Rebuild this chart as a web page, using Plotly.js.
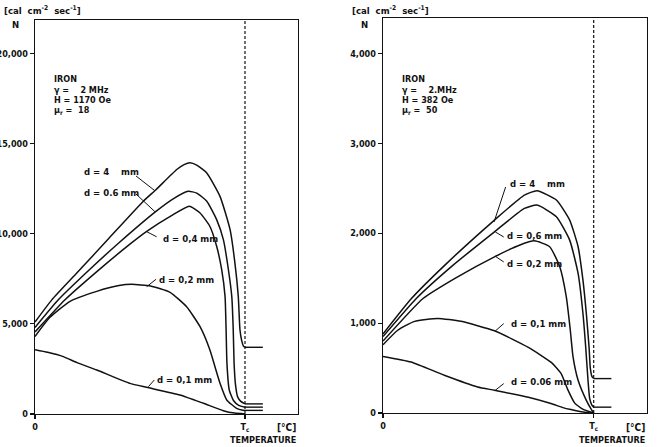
<!DOCTYPE html>
<html>
<head>
<meta charset="utf-8">
<script src="https://cdn.plot.ly/plotly-3.0.1.min.js"></script>
<style>html,body{margin:0;padding:0;background:#fff;}#chart{width:657px;height:447px;}</style>
</head>
<body>
<div id="chart"></div>
<script>
// x values are temperature as a fraction of the Curie temperature Tc (0 .. Tc = 1)
// ---- Left panel: IRON, 2 MHz, H = 1170 Oe, mu_r = 18 ----
const L_d4_x  = [0, 0.08, 0.2, 0.35, 0.516, 0.576, 0.675, 0.71, 0.738, 0.77, 0.818, 0.881, 0.929, 0.952, 0.968, 0.976, 0.984, 0.992, 1.0];
const L_d4_y  = [5100, 6330, 7830, 9720, 11800, 12440, 13560, 13830, 13930, 13800, 13370, 12070, 10220, 8370, 6520, 4670, 4080, 3780, 3700];
const L_d06_x = [0, 0.111, 0.25, 0.4, 0.576, 0.66, 0.73, 0.77, 0.818, 0.865, 0.897, 0.921, 0.937, 0.944, 0.948, 0.955, 0.965, 0.98, 1.0];
const L_d06_y = [4800, 6333, 7900, 9500, 11240, 11950, 12350, 12250, 11800, 10780, 9670, 8000, 6520, 4670, 2820, 1600, 950, 700, 560];
const L_d04_x = [0, 0.143, 0.3, 0.452, 0.532, 0.65, 0.735, 0.786, 0.833, 0.865, 0.889, 0.905, 0.910, 0.914, 0.925, 0.945, 0.97, 1.0];
const L_d04_y = [4550, 6333, 7950, 9420, 10130, 11000, 11520, 11150, 10400, 9300, 8000, 6520, 4670, 2820, 1330, 750, 480, 380];
const L_d02_x = [0, 0.07, 0.167, 0.294, 0.40, 0.46, 0.55, 0.643, 0.722, 0.786, 0.833, 0.857, 0.881, 0.913, 0.960, 0.99, 1.0];
const L_d02_y = [4300, 5350, 6250, 6800, 7120, 7190, 7100, 6750, 5950, 4840, 3550, 2620, 1700, 780, 315, 210, 200];
const L_d01_x = [0, 0.06, 0.135, 0.2, 0.294, 0.452, 0.532, 0.69, 0.802, 0.897, 0.95, 1.0];
const L_d01_y = [3560, 3420, 3180, 2850, 2440, 1700, 1480, 1056, 594, 185, 50, 0];
// values above Tc (constant)
const L_plateau = [3700, 560, 380, 200];
const L_plateauEnd = 1.085;

// ---- Right panel: IRON, 2 MHz, H = 382 Oe, mu_r = 50 ----
const R_d4_x  = [0, 0.135, 0.3, 0.529, 0.671, 0.731, 0.823, 0.886, 0.926, 0.949, 0.965, 0.978, 0.984, 0.992, 1.0];
const R_d4_y  = [880, 1274, 1660, 2147, 2425, 2473, 2370, 2147, 1850, 1478, 1107, 735, 500, 405, 383];
const R_d06_x = [0, 0.158, 0.33, 0.529, 0.671, 0.731, 0.823, 0.886, 0.926, 0.949, 0.962, 0.973, 0.981, 0.992, 1.0];
const R_d06_y = [850, 1274, 1640, 2016, 2277, 2314, 2184, 1924, 1553, 1107, 735, 364, 160, 85, 65];
const R_d02_x = [0, 0.19, 0.35, 0.529, 0.65, 0.718, 0.791, 0.839, 0.870, 0.889, 0.902, 0.926, 0.965, 0.99, 1.0];
const R_d02_y = [800, 1274, 1510, 1738, 1870, 1916, 1850, 1627, 1292, 921, 624, 364, 141, 35, 0];
const R_d01_x = [0, 0.07, 0.15, 0.26, 0.37, 0.529, 0.69, 0.80, 0.845, 0.877, 0.91, 0.95, 1.0];
const R_d01_y = [760, 921, 1020, 1052, 1020, 915, 730, 560, 440, 260, 110, 40, 0];
const R_d006_x = [0, 0.133, 0.291, 0.449, 0.529, 0.69, 0.797, 0.854, 0.892, 0.95, 1.0];
const R_d006_y = [630, 568, 420, 290, 253, 175, 105, 60, 38, 10, 0];
const R_plateau = [383, 65];
const R_plateauEnd = 1.084;

const L_yticks = [0, 5000, 10000, 15000, 20000];
const L_yticktext = ['0', '5,000', '10,000', '15,000', '20,000'];
const R_yticks = [0, 1000, 2000, 3000, 4000];
const R_yticktext = ['0', '1,000', '2,000', '3,000', '4,000'];
const xticks = [0, 1];
const xticktext = ['0', 'T<sub>c</sub>'];

const FONT = 'DejaVu Sans Condensed, DejaVu Sans, sans-serif';
const lineStyle = {color: '#111', width: 1.5, shape: 'spline', smoothing: 0.5};

function curve(x, y, xa, ya) {
  return {x: x, y: y, xaxis: xa, yaxis: ya, mode: 'lines', line: lineStyle, hoverinfo: 'skip', showlegend: false};
}
function plateau(v, end, xa, ya) {
  return {x: [1, end], y: [v, v], xaxis: xa, yaxis: ya, mode: 'lines', line: {color: '#111', width: 1.4}, hoverinfo: 'skip', showlegend: false};
}

const traces = [
  curve(L_d4_x, L_d4_y, 'x', 'y'),
  curve(L_d06_x, L_d06_y, 'x', 'y'),
  curve(L_d04_x, L_d04_y, 'x', 'y'),
  curve(L_d02_x, L_d02_y, 'x', 'y'),
  curve(L_d01_x, L_d01_y, 'x', 'y'),
  curve(R_d4_x, R_d4_y, 'x2', 'y2'),
  curve(R_d06_x, R_d06_y, 'x2', 'y2'),
  curve(R_d02_x, R_d02_y, 'x2', 'y2'),
  curve(R_d01_x, R_d01_y, 'x2', 'y2'),
  curve(R_d006_x, R_d006_y, 'x2', 'y2')
];
L_plateau.forEach(v => traces.push(plateau(v, L_plateauEnd, 'x', 'y')));
R_plateau.forEach(v => traces.push(plateau(v, R_plateauEnd, 'x2', 'y2')));

const W = 657, H = 447;
const px = v => v / W, py = v => 1 - v / H;

const axBase = {
  showgrid: false, zeroline: false, showline: true, mirror: true,
  linecolor: '#111', linewidth: 1.4, ticks: 'outside', ticklen: 4,
  tickwidth: 1.2, tickcolor: '#111', fixedrange: true,
  tickfont: {family: FONT, size: 9, color: '#111', weight: 'bold'}
};

const tf = {family: FONT, size: 9.5, color: '#111', weight: 'bold'};
function ann(x, y, text, xref, yref, xanchor, extra) {
  return Object.assign({x: x, y: y, text: text, xref: xref, yref: yref, xanchor: xanchor || 'left', yanchor: 'middle', showarrow: false, font: tf}, extra || {});
}
const small = {font: Object.assign({}, tf, {size: 9})};

const annotations = [
  // units and N
  ann(px(2), py(10), '[cal  cm<sup>-2</sup>  sec<sup>-1</sup>]', 'paper', 'paper', 'left'),
  ann(px(15), py(24), 'N', 'paper', 'paper', 'center'),
  ann(px(350), py(10), '[cal  cm<sup>-2</sup>  sec<sup>-1</sup>]', 'paper', 'paper', 'left'),
  ann(px(364), py(25), 'N', 'paper', 'paper', 'center'),
  // temperature labels
  ann(px(298), py(427), '[°C]', 'paper', 'paper', 'right', {font: Object.assign({}, tf, {size: 10})}),
  ann(px(298), py(440), 'TEMPERATURE', 'paper', 'paper', 'right', small),
  ann(px(647), py(427), '[°C]', 'paper', 'paper', 'right', {font: Object.assign({}, tf, {size: 10})}),
  ann(px(647), py(440), 'TEMPERATURE', 'paper', 'paper', 'right', small),
  // left parameters
  ann(px(52), py(79), 'IRON', 'paper', 'paper', 'left', small),
  ann(px(52), py(90), 'γ =    2 MHz', 'paper', 'paper', 'left', small),
  ann(px(52), py(100), 'H = 1170 Oe', 'paper', 'paper', 'left', small),
  ann(px(52), py(111), 'μ<sub>r</sub> =  18', 'paper', 'paper', 'left', small),
  // right parameters
  ann(px(400), py(79), 'IRON', 'paper', 'paper', 'left', small),
  ann(px(400), py(90), 'γ =    2.MHz', 'paper', 'paper', 'left', small),
  ann(px(400), py(100), 'H = 382 Oe', 'paper', 'paper', 'left', small),
  ann(px(400), py(111), 'μ<sub>r</sub> =  50', 'paper', 'paper', 'left', small),
  // left curve labels
  ann(0.222, 13440, 'd = 4    mm', 'x', 'y'),
  ann(0.222, 12270, 'd = 0.6 mm', 'x', 'y'),
  ann(0.60, 9745, 'd = 0,4 mm', 'x', 'y'),
  ann(0.579, 7470, 'd = 0,2 mm', 'x', 'y'),
  ann(0.571, 1925, 'd = 0,1 mm', 'x', 'y'),
  // right curve labels
  ann(0.593, 2553, 'd = 4    mm', 'x2', 'y2'),
  ann(0.581, 1978, 'd = 0,6 mm', 'x2', 'y2'),
  ann(0.581, 1663, 'd = 0,2 mm', 'x2', 'y2'),
  ann(0.597, 995, 'd = 0,1 mm', 'x2', 'y2'),
  ann(0.597, 356, 'd = 0.06 mm', 'x2', 'y2')
];

function seg(x0, y0, x1, y1, xr, yr) {
  return {type: 'line', xref: xr, yref: yr, x0: x0, y0: y0, x1: x1, y1: y1, line: {color: '#111', width: 1}};
}
const shapes = [
  {type: 'line', xref: 'x', yref: 'y domain', x0: 1, x1: 1, y0: 0, y1: 1, line: {color: '#111', width: 1.2, dash: '3px,2px'}},
  {type: 'line', xref: 'x2', yref: 'y2 domain', x0: 1, x1: 1, y0: 0, y1: 1, line: {color: '#111', width: 1.2, dash: '3px,2px'}},
  // left pointers
  seg(0.481, 13200, 0.571, 12380, 'x', 'y'),
  seg(0.481, 12200, 0.571, 11220, 'x', 'y'),
  seg(0.579, 9830, 0.532, 10110, 'x', 'y'),
  seg(0.576, 7470, 0.532, 7060, 'x', 'y'),
  seg(0.568, 1886, 0.54, 1514, 'x', 'y'),
  // right pointers
  seg(0.582, 2515, 0.527, 2126, 'x2', 'y2'),
  seg(0.573, 1959, 0.533, 2015, 'x2', 'y2'),
  seg(0.573, 1681, 0.533, 1744, 'x2', 'y2'),
  seg(0.573, 995, 0.533, 913, 'x2', 'y2'),
  seg(0.573, 327, 0.533, 253, 'x2', 'y2')
];

const layout = {
  width: W, height: H,
  margin: {l: 0, r: 0, t: 0, b: 0, pad: 0},
  paper_bgcolor: '#fff', plot_bgcolor: '#fff',
  showlegend: false,
  xaxis: Object.assign({}, axBase, {domain: [35 / W, 298 / W], range: [0, 1.2524], tickvals: xticks, ticktext: xticktext, anchor: 'y'}),
  yaxis: Object.assign({}, axBase, {domain: [(H - 414) / H, (H - 20) / H], range: [0, 21850], tickvals: L_yticks, ticktext: L_yticktext, anchor: 'x'}),
  xaxis2: Object.assign({}, axBase, {domain: [383 / W, 647 / W], range: [0, 1.253], tickvals: xticks, ticktext: xticktext, anchor: 'y2'}),
  yaxis2: Object.assign({}, axBase, {domain: [(H - 413) / H, (H - 18) / H], range: [0, 4396], tickvals: R_yticks, ticktext: R_yticktext, anchor: 'x2'}),
  annotations: annotations,
  shapes: shapes
};

Plotly.newPlot('chart', traces, layout, {staticPlot: true, displayModeBar: false});
</script>
</body>
</html>
